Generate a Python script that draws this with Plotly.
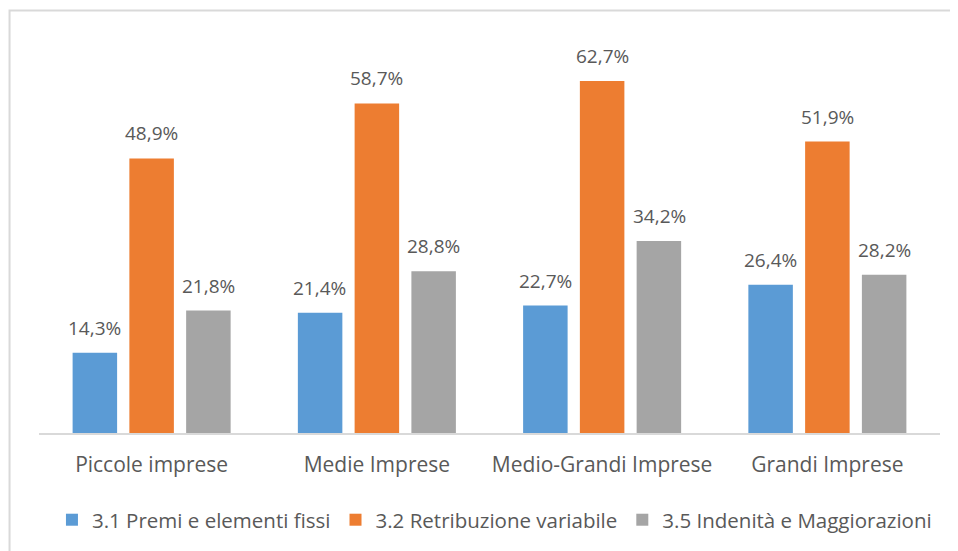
import plotly.graph_objects as go

categories = ["Piccole imprese", "Medie Imprese", "Medio-Grandi Imprese", "Grandi Imprese"]
series_names = ["3.1 Premi e elementi fissi", "3.2 Retribuzione variabile", "3.5 Indenità e Maggiorazioni"]
premi = [14.3, 21.4, 22.7, 26.4]
retribuzione = [48.9, 58.7, 62.7, 51.9]
indennita = [21.8, 28.8, 34.2, 28.2]

colors = ["#5B9BD5", "#ED7D31", "#A5A5A5"]
text_color = "#595959"
font_family = "'Open Sans', sans-serif"

series = [premi, retribuzione, indennita]
shifts = [-57, 0, 57]

fig = go.Figure()
for name, vals, col in zip(series_names, series, colors):
    fig.add_trace(go.Bar(x=categories, y=vals, name=name, marker=dict(color=col, line=dict(width=0))))

annotations = []
for vals, sh in zip(series, shifts):
    for c, v in zip(categories, vals):
        annotations.append(dict(
            x=c, y=v, xref="x", yref="y", text=f"{v:.1f}%".replace(".", ","),
            showarrow=False, xshift=sh, yanchor="bottom", yshift=10,
            font=dict(size=19, color=text_color, family=font_family)))

fig.update_layout(
    width=950, height=543,
    margin=dict(l=31, r=18, t=32, b=117),
    paper_bgcolor="white", plot_bgcolor="white",
    barmode="group", bargap=0.244, bargroupgap=0.216,
    font=dict(family=font_family, color=text_color),
    xaxis=dict(showline=True, linecolor="#D9D9D9", linewidth=1.5, ticks="",
               tickfont=dict(size=21, color=text_color), ticklabelstandoff=12,
               showgrid=False),
    yaxis=dict(range=[0, 70], visible=False, showgrid=False),
    legend=dict(orientation="h", x=0.5055, xanchor="center", y=-0.218, yanchor="middle",
                font=dict(size=20.5, color=text_color), itemwidth=30, traceorder="normal"),
    annotations=annotations,
    shapes=[dict(type="rect", xref="paper", yref="paper", x0=-0.0327, x1=1.06, y0=-0.6, y1=1.0749,
                 line=dict(color="#D9D9D9", width=2), fillcolor="rgba(0,0,0,0)", layer="below")],
)

fig.write_html("out.html")
